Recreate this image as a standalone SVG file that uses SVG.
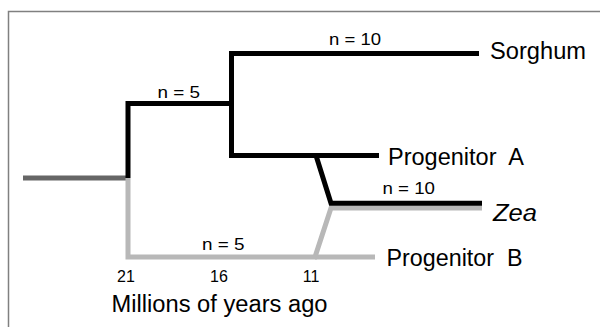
<svg xmlns="http://www.w3.org/2000/svg" width="600" height="327" viewBox="0 0 600 327">
<style>
.t{font-family:"Liberation Sans",Arial,sans-serif;fill:#000}
.lbl{font-size:23px}
.n{font-size:16.5px}
.ax{font-size:16px;text-anchor:middle}
.b{fill:none;stroke:#000;stroke-width:5;stroke-linejoin:miter;stroke-linecap:butt}
.g{fill:none;stroke:#b8b8b8;stroke-width:5;stroke-linejoin:miter;stroke-linecap:butt}
.r{fill:none;stroke:#666;stroke-width:5}
</style>
<rect width="600" height="327" fill="#fff"/>
<path d="M8.5,327 V11.5 H600" fill="none" stroke="#808080" stroke-width="1.5"/>
<g id="connectors">
<line class="r" x1="23" y1="178" x2="126" y2="178"/>
<polyline class="g" points="128,178 128,257 315,257 331,208 482,208"/>
<line class="g" x1="315" y1="257" x2="375" y2="257"/>
<polyline class="b" points="128,178 128,103.5 231.5,103.5"/>
<polyline class="b" points="479,53.5 231.5,53.5 231.5,155.5 379,155.5"/>
<polyline class="b" points="316,155.5 331,203.3 482,203.3"/>
</g>
<g id="node-sorghum"><text class="t lbl" x="490" y="58.5" textLength="96" lengthAdjust="spacingAndGlyphs">Sorghum</text></g>
<g id="node-progenitor-a"><text class="t lbl" x="388" y="165" textLength="136" lengthAdjust="spacingAndGlyphs" xml:space="preserve">Progenitor  A</text></g>
<g id="node-zea"><text class="t lbl" x="493" y="221" font-style="italic" textLength="44" lengthAdjust="spacingAndGlyphs">Zea</text></g>
<g id="node-progenitor-b"><text class="t lbl" x="386.5" y="266" textLength="136" lengthAdjust="spacingAndGlyphs" xml:space="preserve">Progenitor  B</text></g>
<g id="branch-labels">
<text class="t n" x="157.5" y="97.5" textLength="42.5" lengthAdjust="spacingAndGlyphs">n = 5</text>
<text class="t n" x="329" y="45" textLength="52" lengthAdjust="spacingAndGlyphs">n = 10</text>
<text class="t n" x="382.5" y="193.5" textLength="52.5" lengthAdjust="spacingAndGlyphs">n = 10</text>
<text class="t n" x="202" y="250" textLength="42.5" lengthAdjust="spacingAndGlyphs">n = 5</text>
</g>
<g id="axis">
<text class="t ax" x="126" y="282">21</text>
<text class="t ax" x="219" y="282">16</text>
<text class="t ax" x="311" y="282">11</text>
<text class="t lbl" x="111.5" y="311.5" textLength="216" lengthAdjust="spacingAndGlyphs">Millions of years ago</text>
</g>
</svg>
